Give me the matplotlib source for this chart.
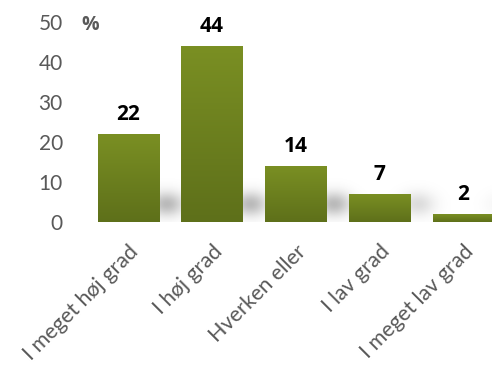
import numpy as np
import matplotlib.pyplot as plt
from matplotlib.colors import LinearSegmentedColormap

kategorier = ["I meget høj grad", "I høj grad", "Hverken eller", "I lav grad", "I meget lav grad"]
procent = [22, 44, 14, 7, 2]
yticks = [0, 10, 20, 30, 40, 50]

W, H = 492, 365
fig = plt.figure(figsize=(W / 100, H / 100), dpi=100)
left, bottom = 86.5 / W, 143 / H
ax = fig.add_axes([left, bottom, (505 - 86.5) / W, 200 / H])
ax.set_xlim(-0.5, 4.5)
ax.set_ylim(0, 50)
ax.set_clip_on(False)

x = np.arange(len(procent))
bredde = 0.73

# blød skygge til højre for søjlerne
gx = np.linspace(-0.5, 4.5, 500)
gy = np.linspace(0, 14, 200)
GX, GY = np.meshgrid(gx, gy)
skygge = np.zeros_like(GX)
for i, v in zip(x, procent):
    styrke = min(v, 14) / 14
    skygge += styrke * np.exp(-((GX - (i + 0.45)) / 0.2) ** 2) * np.exp(-((GY - 4.5) / 3.0) ** 2)
skygge = np.clip(skygge, 0, 1)
grå = LinearSegmentedColormap.from_list("skygge", [(0.55, 0.55, 0.55, 0), (0.55, 0.55, 0.55, 0.6)])
ax.imshow(skygge, extent=(-0.5, 4.5, 0, 14), origin="lower", cmap=grå, vmin=0, vmax=1,
          aspect="auto", zorder=1, interpolation="bilinear")

# søjler med farveforløb fra lys top til mørk bund
grøn = LinearSegmentedColormap.from_list("grøn", ["#5e701a", "#7a8f23"])
søjler = ax.bar(x, procent, width=bredde, color="none", edgecolor="none", zorder=2)
forløb = np.linspace(0, 1, 100).reshape(-1, 1)
for s in søjler:
    x0, y0 = s.get_x(), s.get_y()
    w, h = s.get_width(), s.get_height()
    im = ax.imshow(forløb, extent=(x0, x0 + w, y0, y0 + h), origin="lower", cmap=grøn,
                   aspect="auto", zorder=3, interpolation="bilinear")
    im.set_clip_path(s)

for i, v in zip(x, procent):
    ax.text(i, v + 2.2, str(v), ha="center", va="bottom", fontsize=15, fontweight="bold",
            family="Open Sans", color="black")

ax.set_xlim(-0.5, 4.5)
ax.set_ylim(0, 50)

for side in ax.spines.values():
    side.set_visible(False)
ax.set_yticks(yticks)
ax.set_yticklabels([str(t) for t in yticks], fontsize=15, family="Lato", color="#595959")
ax.tick_params(axis="y", length=0, pad=17)
ax.set_xticks(x)
ax.set_xticklabels(kategorier, rotation=45, ha="right", va="top", rotation_mode="anchor",
                   fontsize=15.5, family="Lato", color="#595959")
ax.tick_params(axis="x", length=0, pad=14)

fig.text(81 / W, 1 - 25 / H, "%", fontsize=14, fontweight="bold", family="Open Sans",
         color="#595959", ha="left", va="center")

fig.savefig("out.png", dpi=100)
